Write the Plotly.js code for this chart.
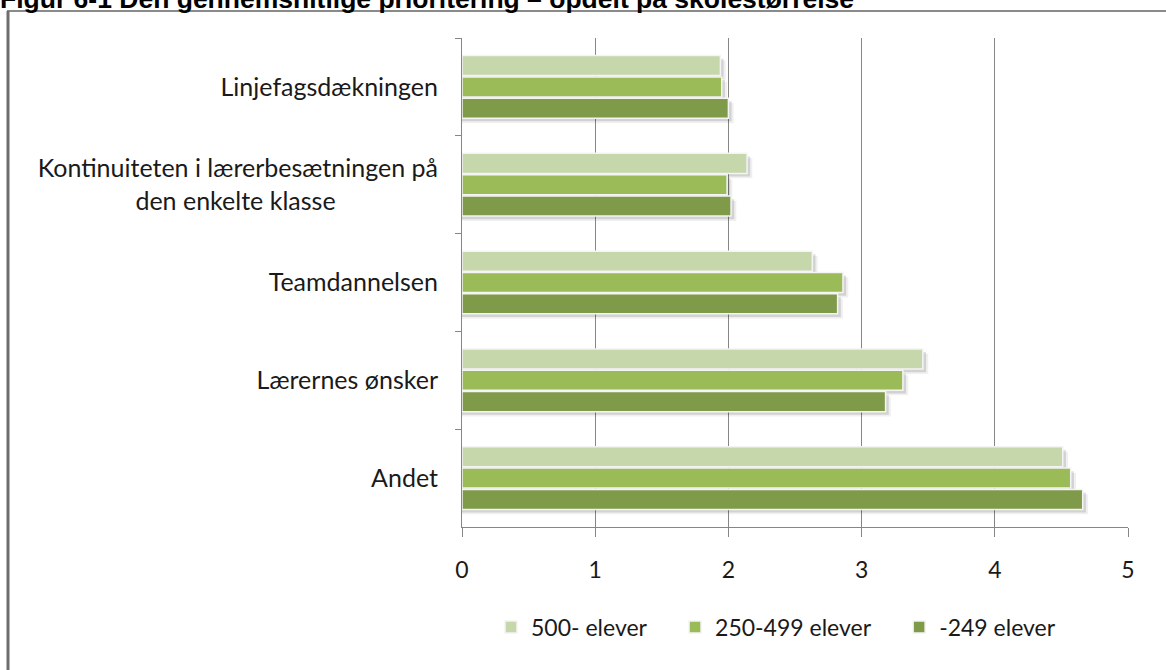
<!DOCTYPE html>
<html>
<head>
<meta charset="utf-8">
<script src="https://cdn.plot.ly/plotly-3.0.1.min.js"></script>
<style>html,body{margin:0;padding:0;background:#fff;}#chart{width:1166px;height:670px;}</style>
</head>
<body>
<div id="chart"></div>
<script>
const NB = "\u00A0";
const categories = [
  "Linjefagsdækningen",
  "Kontinuiteten i lærerbesætningen på<br>den enkelte klasse" + NB.repeat(16),
  "Teamdannelsen",
  "Lærernes ønsker",
  "Andet"
];
const seriesNames = ["500- elever", "250-499 elever", "-249 elever"];
const values500 = [1.94, 2.14, 2.63, 3.46, 4.51];
const values250 = [1.95, 1.99, 2.86, 3.31, 4.57];
const values249 = [2.00, 2.02, 2.82, 3.18, 4.66];
const colors = ["#C6D7AC", "#9BBB59", "#7F9A48"];
const xTicks = [0, 1, 2, 3, 4, 5];

const allValues = [values500, values250, values249];

// bar geometry in category units (band = 1 category)
const barW = 0.205, pitch = 0.218;
const firstOff = -(2 * pitch + barW) / 2;

const shadowTraces = [];
allValues.forEach((v, i) => {
  [[0.05, 0.04, "rgba(0,0,0,0.06)"], [0.032, 0.024, "rgba(0,0,0,0.12)"]].forEach(([dy, dx, c]) => {
    shadowTraces.push({
      type: "bar", orientation: "h", showlegend: false, hoverinfo: "skip",
      y: categories, x: v.map(val => val + dx),
      offset: firstOff + i * pitch + dy, width: barW,
      marker: {color: c, line: {width: 0}}
    });
  });
});

const barTraces = allValues.map((v, i) => ({
  type: "bar",
  orientation: "h",
  name: seriesNames[i] + (i < 2 ? NB.repeat(4) : ""),
  y: categories,
  x: v,
  offset: firstOff + i * pitch,
  width: barW,
  marker: {color: colors[i], line: {color: "#F4F4F4", width: 1.5}},
  hoverinfo: "x+name"
}));

const W = 1166, H = 670;
const L = 462, R = 1128, T = 38, B = 527;
const px = x => (x - L) / (R - L);
const py = y => (B - y) / (B - T);

const layout = {
  width: W, height: H,
  margin: {l: L, r: W - R, t: T, b: H - B},
  paper_bgcolor: "#FFFFFF",
  plot_bgcolor: "#FFFFFF",
  font: {family: "Lato, 'Open Sans', sans-serif", size: 24, color: "#1a1a1a"},
  barmode: "overlay",
  showlegend: true,
  legend: {
    orientation: "h",
    x: px(776), xanchor: "center",
    y: py(627), yanchor: "middle",
    font: {size: 23, color: "#1a1a1a"},
    traceorder: "normal",
    itemwidth: 30
  },
  xaxis: {
    range: [0, 5],
    tickvals: xTicks,
    ticktext: xTicks.map(String),
    showgrid: true,
    gridcolor: "#868686",
    gridwidth: 1,
    zeroline: false,
    showline: true,
    linecolor: "#868686",
    linewidth: 1,
    ticks: "outside",
    ticklen: 9,
    tickcolor: "#868686",
    ticklabelstandoff: 13,
    tickfont: {size: 23, color: "#1a1a1a"},
    fixedrange: true
  },
  yaxis: {
    type: "category",
    autorange: "reversed",
    showline: true,
    linecolor: "#868686",
    linewidth: 1,
    ticks: "outside",
    tickson: "boundaries",
    ticklen: 6,
    tickcolor: "#868686",
    ticklabelstandoff: 18,
    showgrid: false,
    tickfont: {size: 25, color: "#1a1a1a"},
    fixedrange: true
  },
  annotations: [{
    text: "<b>Figur 6-1 Den gennemsnitlige prioritering – opdelt på skolestørrelse</b>",
    xref: "paper", yref: "paper",
    x: px(-2), xanchor: "left",
    y: py(-1), yanchor: "middle",
    showarrow: false,
    font: {family: "Arial, 'Liberation Sans', sans-serif", size: 26.5, color: "#000000"}
  }],
  shapes: [{
    type: "rect", xref: "paper", yref: "paper",
    x0: px(8), x1: px(1180), y0: py(700), y1: py(11),
    line: {color: "#8A8A8A", width: 2},
    fillcolor: "rgba(0,0,0,0)",
    layer: "below"
  }, {
    type: "line", xref: "paper", yref: "paper",
    x0: px(8), x1: px(8), y0: py(700), y1: py(11),
    line: {color: "#6E6E6E", width: 3}
  }]
};

Plotly.newPlot("chart", shadowTraces.concat(barTraces), layout, {displayModeBar: false, staticPlot: true});
</script>
</body>
</html>
